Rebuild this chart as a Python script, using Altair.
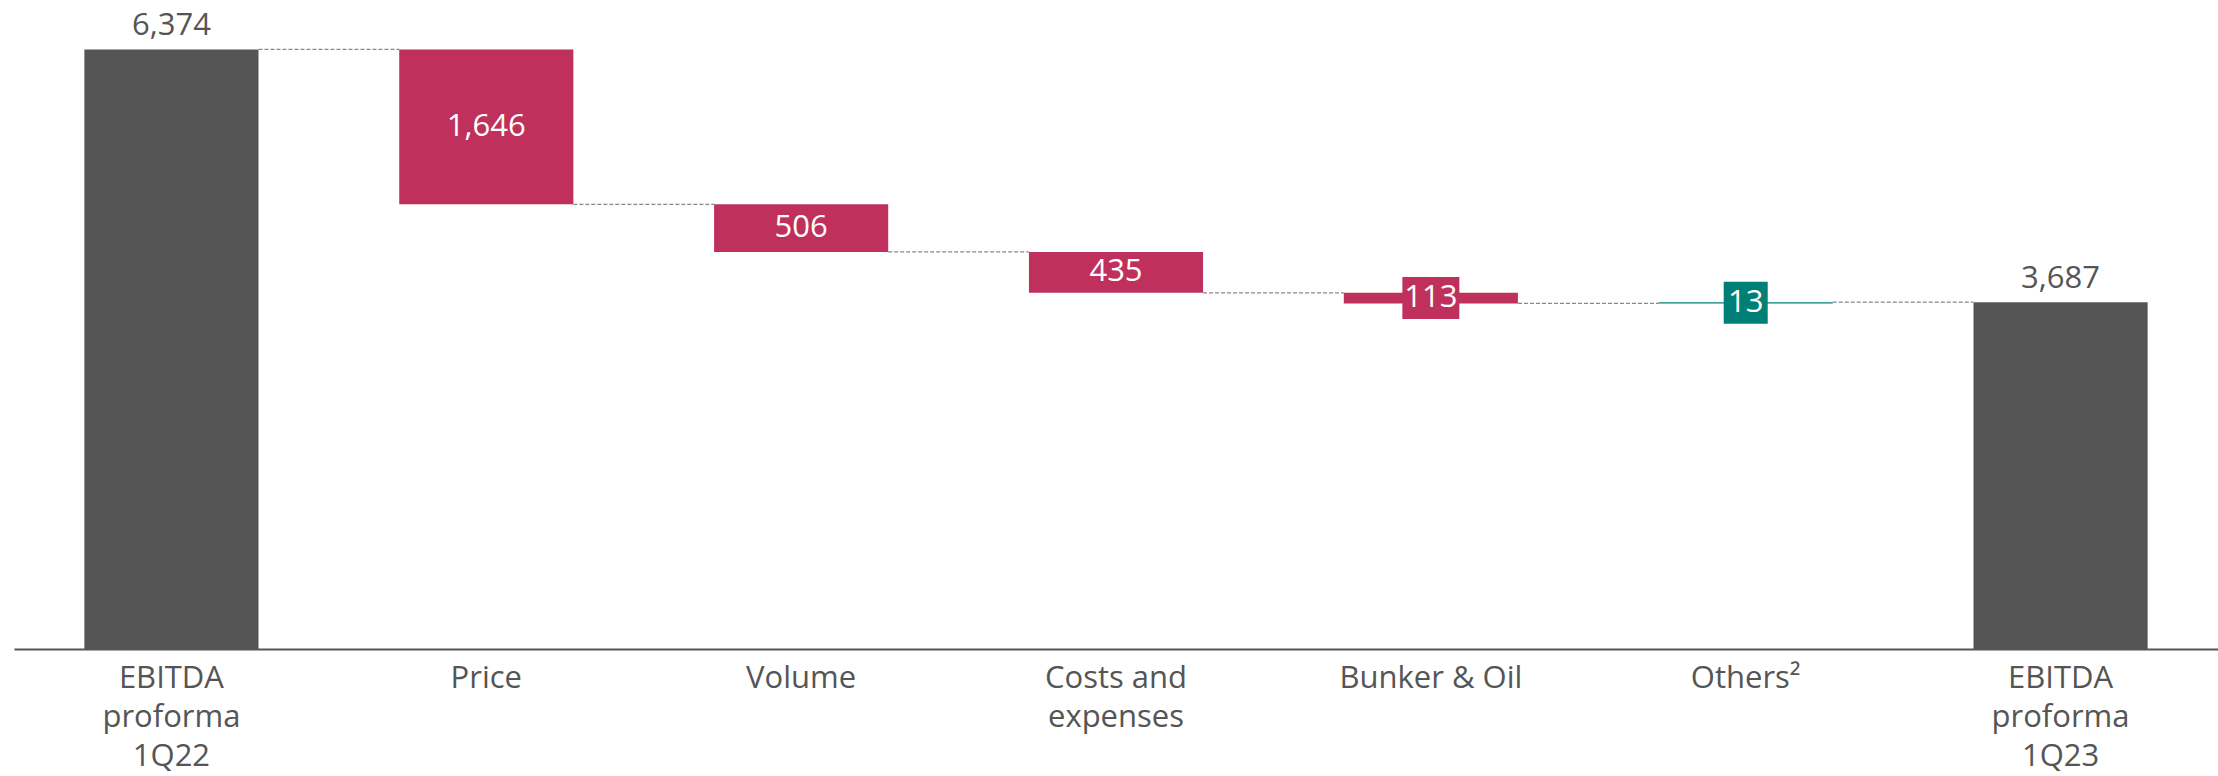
import altair as alt
import pandas as pd

categories = ["EBITDA|proforma|1Q22", "Price", "Volume", "Costs and|expenses",
              "Bunker & Oil", "Others²", "EBITDA|proforma|1Q23"]
values = [6374, -1646, -506, -435, -113, 13, 3687]
kinds = ["total", "down", "down", "down", "down", "up", "total"]

# derive waterfall geometry from the values
starts, ends = [], []
running = 0
for v, k in zip(values, kinds):
    if k == "total":
        starts.append(0); ends.append(v); running = v
    else:
        starts.append(running); running = running + v; ends.append(running)

df = pd.DataFrame({
    "cat": categories, "value": values, "kind": kinds,
    "start": starts, "end": ends,
    "mid": [(s + e) / 2 for s, e in zip(starts, ends)],
    "label": [f"{abs(v):,}" for v in values],
})

conn = pd.DataFrame({
    "c1": categories[:-1], "c2": categories[1:],
    "level": ends[:-1],
})

GREY = "#555555"
RED = "#BF305C"
TEAL = "#007F76"
FONT = "Open Sans"
FS = 31

color_scale = alt.Scale(domain=["total", "down", "up"], range=[GREY, RED, TEAL])
xscale = alt.Scale(domain=categories, paddingInner=0.447, paddingOuter=0.2235)
x = alt.X("cat:N", sort=None, scale=xscale, title=None,
          axis=alt.Axis(labelExpr="split(datum.value, '|')", labelAngle=0,
                        labelFont=FONT, labelFontSize=FS, labelColor=GREY,
                        labelLineHeight=39, labelPadding=14, ticks=False,
                        labelLimit=400,
                        domainColor=GREY, domainWidth=2, labelBaseline="top"))
yscale = alt.Scale(domain=[0, 6900], nice=False, zero=True)
y = alt.Y("start:Q", scale=yscale, axis=None)

base = alt.Chart(df)

bars = base.mark_bar().encode(
    x=x, y=y, y2="end:Q",
    color=alt.Color("kind:N", scale=color_scale, legend=None),
)

rules = alt.Chart(conn).mark_rule(color="#888888", strokeDash=[4, 2], strokeWidth=1.2).encode(
    x=alt.X("c1:N", sort=None, scale=xscale, bandPosition=1),
    x2=alt.X2("c2:N", bandPosition=0),
    y=alt.Y("level:Q", scale=yscale),
)

box_red = base.transform_filter(alt.datum.cat == "Bunker & Oil").mark_tick(
    orient="vertical", thickness=57, size=42, color=RED, opacity=1).encode(
    x=alt.X("cat:N", sort=None, scale=xscale), y=alt.Y("mid:Q", scale=yscale))
box_teal = base.transform_filter(alt.datum.cat == "Others²").mark_tick(
    orient="vertical", thickness=44, size=42, color=TEAL, opacity=1).encode(
    x=alt.X("cat:N", sort=None, scale=xscale), y=alt.Y("mid:Q", scale=yscale))

inner = base.transform_filter(alt.datum.kind != "total").mark_text(
    font=FONT, fontSize=FS, color="white", baseline="middle", align="center").encode(
    x=alt.X("cat:N", sort=None, scale=xscale), y=alt.Y("mid:Q", scale=yscale), text="label:N")

top = base.transform_filter(alt.datum.kind == "total").mark_text(
    font=FONT, fontSize=FS, color=GREY, baseline="alphabetic", align="center", dy=-14).encode(
    x=alt.X("cat:N", sort=None, scale=xscale), y=alt.Y("end:Q", scale=yscale), text="label:N")

chart = alt.layer(bars, rules, box_red, box_teal, inner, top).properties(
    width=2204, height=649, background="white",
    padding={"left": 14, "top": 0, "right": 0, "bottom": 0},
).configure_view(stroke=None)

chart.save("out.html", embed_options={"renderer": "svg", "actions": False})
